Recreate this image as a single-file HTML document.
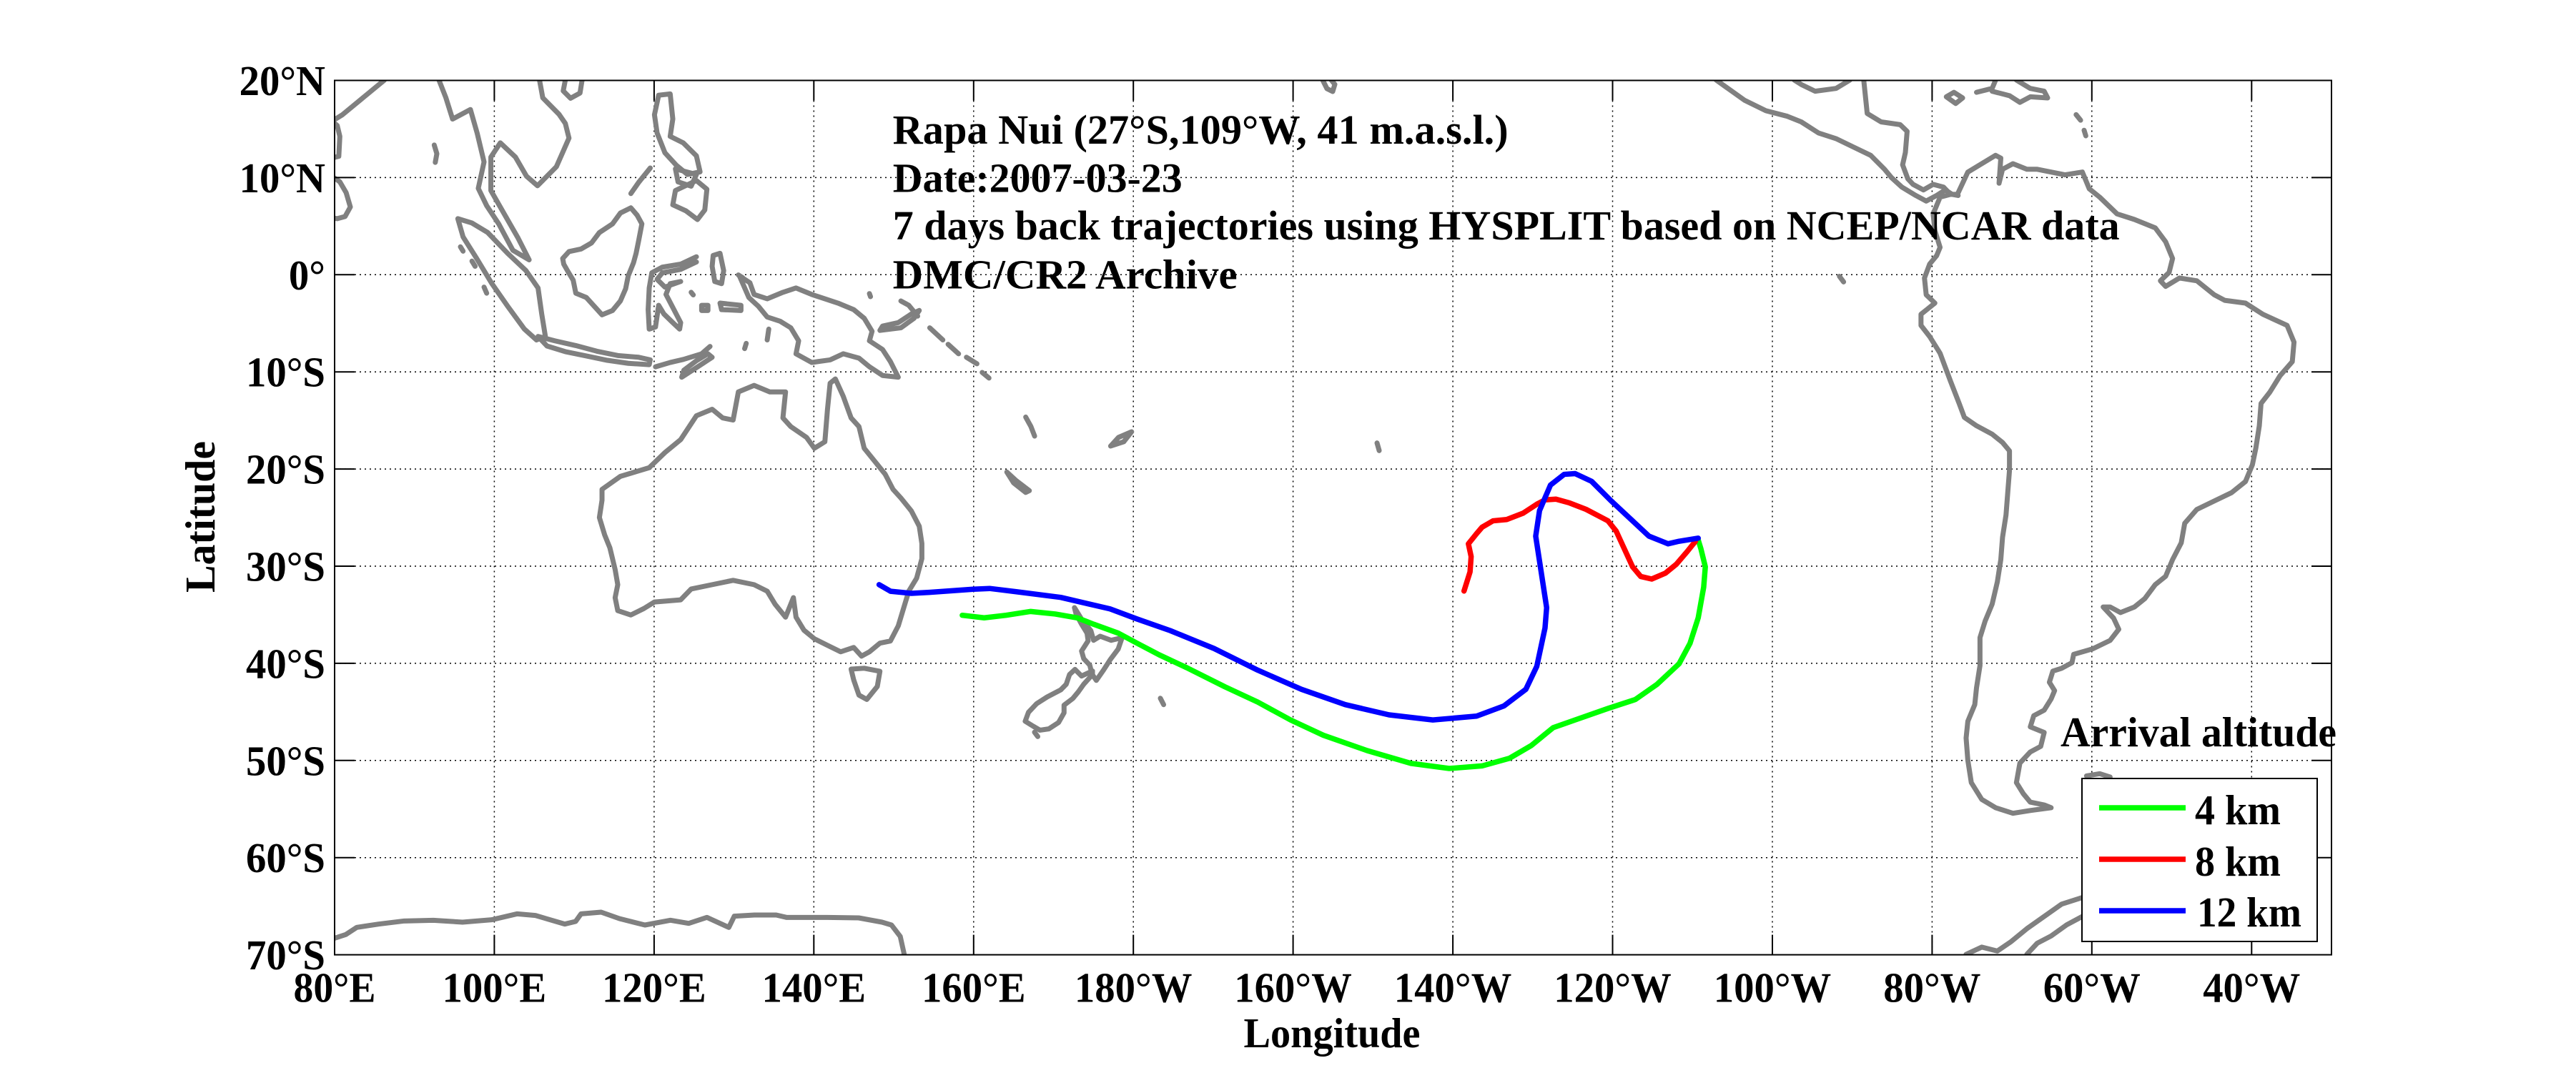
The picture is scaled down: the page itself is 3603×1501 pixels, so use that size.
<!DOCTYPE html>
<html>
<head>
<meta charset="utf-8">
<style>
html,body{margin:0;padding:0;background:#fff;}
svg{display:block;}
text{font-family:"Liberation Serif","Times New Roman",serif;font-weight:bold;fill:#000;}
.coast{fill:none;stroke:#808080;stroke-width:7;stroke-linejoin:round;stroke-linecap:round;}
.traj{fill:none;stroke-width:7.5;stroke-linejoin:round;stroke-linecap:round;}
.grid{stroke:#000;stroke-width:1.5;stroke-dasharray:2 5;fill:none;}
</style>
</head>
<body>
<svg width="3603" height="1501" viewBox="0 0 3603 1501" xmlns="http://www.w3.org/2000/svg">
<defs>
<clipPath id="ax"><rect x="468" y="112.5" width="2793" height="1223.1"/></clipPath>
</defs>
<rect x="0" y="0" width="3603" height="1501" fill="#fff"/>

<!-- gridlines -->
<g class="grid">
<path d="M691.4,112.5V1335.6 M914.9,112.5V1335.6 M1138.3,112.5V1335.6 M1361.8,112.5V1335.6 M1585.2,112.5V1335.6 M1808.6,112.5V1335.6 M2032.1,112.5V1335.6 M2255.5,112.5V1335.6 M2479,112.5V1335.6 M2702.4,112.5V1335.6 M2925.8,112.5V1335.6 M3149.3,112.5V1335.6"/>
<path d="M468,248.4H3261 M468,384.3H3261 M468,520.2H3261 M468,656.1H3261 M468,792H3261 M468,927.9H3261 M468,1063.8H3261 M468,1199.7H3261"/>
</g>

<g clip-path="url(#ax)">
<!-- Asia / Indonesia / Australia (zoom8 coords) -->
<g transform="translate(468,112) scale(0.7334,0.6059)">
<g class="coast">
<path vector-effect="non-scaling-stroke" d="M95,0 L65,30 L40,55 L15,80 L-5,95 L5,105 L10,130 L8,176 L-5,180"/>
<path vector-effect="non-scaling-stroke" d="M-5,222 L10,235 L22,260 L30,293 L20,315 L5,320 L-5,318"/>
<path vector-effect="non-scaling-stroke" d="M190,150 L195,170 L192,190"/>
<path vector-effect="non-scaling-stroke" d="M199,0 L212,40 L225,90 L259,68 L272,123 L285,189 L274,250 L290,290 L313,332 L340,393 L371,415 L350,365 L324,310 L298,255 L298,178 L316,145 L345,178 L366,222 L387,244 L423,200 L447,134 L440,100 L428,79 L397,41 L392,8 L390,-5"/>
<path vector-effect="non-scaling-stroke" d="M440,0 L436,25 L450,42 L468,30 L472,0"/>
<path vector-effect="non-scaling-stroke" d="M235,320 L262,330 L292,352 L330,400 L365,440 L388,480 L395,540 L402,592 L385,600 L362,575 L330,522 L300,470 L270,410 L245,362 Z"/>
<path vector-effect="non-scaling-stroke" d="M262,418 L268,430 M285,478 L290,492 M240,385 L245,395"/>
<path vector-effect="non-scaling-stroke" d="M388,592 L420,602 L460,613 L500,626 L540,636 L580,640 L602,646 L600,657 L560,654 L520,647 L480,637 L440,627 L405,614 Z"/>
<path vector-effect="non-scaling-stroke" d="M612,662 L640,652 L665,645 L700,632 L716,615"/>
<path vector-effect="non-scaling-stroke" d="M662,686 L685,668 L705,652 L720,640 L712,632 L690,648 L666,670 Z"/>
<path vector-effect="non-scaling-stroke" d="M435,412 L447,396 L470,390 L490,376 L505,352 L530,332 L545,307 L565,295 L577,312 L586,332 L580,370 L575,400 L570,422 L560,452 L555,482 L545,510 L530,532 L510,542 L495,522 L480,502 L460,492 L455,462 L445,442 L437,425 Z"/>
<path vector-effect="non-scaling-stroke" d="M565,262 L580,236 L602,203"/>
<path vector-effect="non-scaling-stroke" d="M690,408 L660,425 L625,432 L605,445 L600,480 L598,530 L600,575 L612,570 L618,520 L628,540 L645,560 L658,575 L660,560 L645,525 L632,495 L640,470 L660,465 L630,478 L615,460 L625,445 L660,437 L690,420"/>
<path vector-effect="non-scaling-stroke" d="M618,35 L640,32 L645,90 L640,130 L665,145 L690,175 L697,212 L673,218 L652,197 L630,168 L615,122 L610,80 Z"/>
<path vector-effect="non-scaling-stroke" d="M650,205 L690,218 L680,245 L655,235 Z"/>
<path vector-effect="non-scaling-stroke" d="M650,255 L690,232 L710,252 L706,300 L692,322 L670,302 L645,288 Z"/>
<path vector-effect="non-scaling-stroke" d="M722,405 L735,400 L742,440 L738,470 L725,465 L720,430 Z"/>
<path vector-effect="non-scaling-stroke" d="M735,515 L775,520 L775,532 L738,530 Z"/>
<path vector-effect="non-scaling-stroke" d="M700,520 L712,520 L712,532 L700,532 Z"/>
<path vector-effect="non-scaling-stroke" d="M828,575 L825,600 M785,608 L782,620 M1020,493 L1022,500 M770,450 L778,456 M680,490 L684,496"/>
<path vector-effect="non-scaling-stroke" d="M772,452 L792,468 L800,495 L825,505 L855,490 L880,480 L910,495 L960,515 L990,530 L1010,550 L1025,580 L1020,602 L1045,622 L1060,650 L1075,686 L1045,682 L1020,662 L1000,642 L970,632 L945,646 L910,652 L880,632 L885,602 L870,572 L850,557 L825,547 L808,522 L790,502 Z"/>
<path vector-effect="non-scaling-stroke" d="M1040,578 L1080,572 L1105,550 L1115,532 L1100,540 L1075,560 L1045,568 Z"/>
<path vector-effect="non-scaling-stroke" d="M1080,510 L1095,520 L1112,545"/>
<path vector-effect="non-scaling-stroke" d="M1135,572 L1160,600 M1170,610 L1190,632 M1205,640 L1225,655 M1235,675 L1248,688"/>
<path vector-effect="non-scaling-stroke" d="M1318,778 L1328,800 L1335,822"/>
<path vector-effect="non-scaling-stroke" d="M1282,905 L1300,925 L1325,948 L1318,952 L1295,930 Z"/>
<path vector-effect="non-scaling-stroke" d="M1480,845 L1495,825 L1520,812 L1505,835 Z"/>
<path vector-effect="non-scaling-stroke" d="M510,945 L545,915 L600,895 L630,860 L660,830 L690,775 L720,760 L740,780 L760,785 L770,720 L800,705 L830,720 L860,720 L855,780 L870,800 L900,825 L915,850 L935,835 L940,760 L945,700 L955,690 L970,730 L985,780 L1000,800 L1010,850 L1030,880 L1050,910 L1065,945 L1080,965 L1100,995 L1115,1030 L1120,1070 L1120,1105 L1110,1150 L1095,1180 L1085,1220 L1075,1260 L1060,1295 L1040,1300 L1020,1320 L1005,1330 L990,1310 L965,1320 L940,1305 L915,1290 L895,1270 L880,1240 L875,1195 L860,1240 L840,1210 L825,1180 L800,1165 L760,1155 L720,1165 L680,1175 L660,1200 L610,1205 L590,1220 L565,1235 L540,1225 L535,1195 L540,1165 L535,1130 L525,1080 L515,1050 L505,1010 L510,970 Z"/>
<path vector-effect="non-scaling-stroke" d="M985,1360 L1010,1358 L1040,1365 L1035,1400 L1015,1430 L1000,1420 L990,1385 Z"/>
</g>
</g>

<!-- Hawaii (original coords) -->
<path class="coast" d="M1850,112 L1856,124 L1864,128 L1867,118 L1862,112"/>

<!-- New Zealand etc (zoom7 coords) -->
<g transform="translate(1300,600) scale(0.7653,0.35714)">
<g class="coast">
<path vector-effect="non-scaling-stroke" d="M265,700 L278,745 L295,790 L300,828 L312,812 L332,828 L352,818 L345,862 L330,905 L318,945 L305,985 L297,960 L293,925 L282,900 L278,870 L290,830 L288,800 L278,765 L268,725 Z"/>
<path vector-effect="non-scaling-stroke" d="M298,948 L278,968 L266,942 L256,962 L250,1000 L240,1022 L215,1050 L196,1076 L181,1110 L175,1145 L190,1165 L202,1180 L218,1175 L236,1150 L246,1112 L246,1082 L262,1056 L272,1030 L282,1000 L298,962 Z"/>
<path vector-effect="non-scaling-stroke" d="M192,1188 L198,1205"/>
<path vector-effect="non-scaling-stroke" d="M422,1055 L428,1080"/>
<path vector-effect="non-scaling-stroke" d="M818,55 L822,85"/>
</g>
</g>

<!-- Americas (zoom9 coords) -->
<g transform="translate(2500,112) scale(0.48534,0.78)">
<g class="coast">
<path vector-effect="non-scaling-stroke" d="M-205,0 L-124,36 L-62,55 L0,65 L40,75 L90,95 L140,105 L190,120 L240,135 L280,160 L300,175 L330,192 L370,207 L400,217 L430,207 L455,197 L475,205 L492,207"/>
<path vector-effect="non-scaling-stroke" d="M220,0 L230,60 L270,75 L325,80 L345,92 L340,130 L332,152 L347,177 L362,187 L392,197 L420,187 L450,192 L470,205"/>
<path vector-effect="non-scaling-stroke" d="M20,0 L40,8 L80,20 L140,15 L180,0"/>
<path vector-effect="non-scaling-stroke" d="M458,30 L480,22 L505,32 L485,42 Z"/>
<path vector-effect="non-scaling-stroke" d="M545,22 L590,15 L600,0 M590,20 L640,28 L670,40 L700,30 L750,32 L740,20 L700,15 L660,0"/>
<path vector-effect="non-scaling-stroke" d="M832,62 L845,72 M855,90 L860,100"/>
<path vector-effect="non-scaling-stroke" d="M150,352 L162,362"/>
<path vector-effect="non-scaling-stroke" d="M490,205 L520,165 L560,150 L600,135 L615,140 L610,185 L620,160 L650,150 L690,160 L720,160 L760,165 L800,170 L850,165 L870,195 L900,210 L950,240 L1000,250 L1060,265 L1090,290 L1110,320 L1100,345 L1075,360 L1090,370 L1130,355 L1180,360 L1230,385 L1260,395 L1320,400 L1370,420 L1440,440 L1460,470 L1455,505 L1420,530 L1390,560 L1365,580 L1360,620 L1350,660 L1340,690 L1320,720 L1280,740 L1230,755 L1180,770 L1145,795 L1135,830 L1110,860 L1090,890 L1060,905 L1030,930 L1000,945 L960,955 L930,945 L910,945 L940,965 L955,985 L930,1005 L880,1020 L825,1030 L820,1045 L790,1055 L765,1060 L755,1080 L770,1095 L760,1110 L740,1130 L710,1140 L700,1160 L740,1170 L730,1195 L700,1205 L670,1225 L660,1260 L680,1280 L700,1295 L740,1300 L760,1305 L700,1310 L650,1315 L600,1305 L560,1290 L530,1260 L520,1220 L515,1180 L520,1150 L540,1120 L545,1090 L555,1050 L555,1000 L570,970 L590,940 L605,900 L615,860 L620,820 L630,780 L635,740 L640,700 L640,665 L620,650 L590,635 L545,620 L510,605 L495,580 L470,540 L440,490 L410,460 L385,440 L385,420 L405,410 L425,400 L400,385 L395,355 L410,330 L430,315 L440,300 L425,270 L420,240 L440,210 L470,205 Z"/>
<path vector-effect="non-scaling-stroke" d="M862,1248 L900,1244 L930,1250 L910,1258 L870,1256 Z"/>
<path vector-effect="non-scaling-stroke" d="M515,1568 L560,1555 L605,1562 L645,1545 L690,1522 L740,1500 L790,1478 L840,1468 L870,1462"/>
<path vector-effect="non-scaling-stroke" d="M690,1568 L720,1548 L760,1535 L805,1515 L850,1500"/>
</g>
</g>

<!-- Antarctica left (zoom2 coords) -->
<g transform="translate(300,1150) scale(0.5102,0.33333)">
<g class="coast">
<path vector-effect="non-scaling-stroke" d="M300,495 L330,487 L360,472 L390,442 L450,428 L520,415 L600,412 L680,420 L760,410 L830,385 L880,392 L960,428 L990,417 L1005,385 L1060,378 L1110,405 L1180,432 L1250,412 L1300,425 L1350,400 L1410,442 L1425,395 L1480,390 L1540,390 L1568,400 L1680,400 L1766,402 L1830,420 L1856,432 L1880,480 L1893,570"/>
</g>
</g>

<!-- trajectories (zoom7 coords) -->
<g transform="translate(1300,600) scale(0.7653,0.35714)">
<path class="traj" vector-effect="non-scaling-stroke" stroke="#00ff00" d="M60,730 L100,740 L140,730 L185,715 L230,725 L270,740 L300,765 L345,800 L380,840 L420,885 L470,935 L540,1010 L600,1070 L660,1140 L720,1200 L800,1260 L880,1310 L950,1330 L1010,1320 L1060,1290 L1100,1240 L1140,1170 L1180,1140 L1240,1095 L1290,1060 L1330,1000 L1370,920 L1390,840 L1405,740 L1415,620 L1418,540 L1410,470 L1405,435"/>
<path class="traj" vector-effect="non-scaling-stroke" stroke="#ff0000" d="M977,635 L988,560 L990,500 L985,450 L1000,410 L1010,385 L1030,360 L1055,355 L1085,330 L1110,295 L1125,278 L1145,275 L1170,290 L1200,315 L1240,360 L1255,400 L1270,470 L1285,540 L1300,578 L1320,588 L1345,565 L1365,530 L1385,480 L1400,440"/>
<path class="traj" vector-effect="non-scaling-stroke" stroke="#0000ff" d="M-92,610 L-71,636 L-33,644 L0,640 L80,628 L110,625 L160,638 L240,660 L330,705 L380,745 L440,790 L520,860 L600,945 L680,1020 L760,1080 L840,1120 L920,1140 L1000,1125 L1050,1085 L1090,1020 L1110,930 L1125,780 L1128,700 L1118,560 L1108,420 L1115,320 L1135,220 L1160,178 L1180,175 L1210,205 L1245,280 L1280,350 L1315,420 L1350,450 L1370,440 L1405,428"/>
</g>
</g>

<!-- axes box and ticks -->
<g stroke="#000" stroke-width="2" fill="none">
<rect x="468" y="112.5" width="2793" height="1223.1"/>
<path d="M468,248.4h28 M468,384.3h28 M468,520.2h28 M468,656.1h28 M468,792h28 M468,927.9h28 M468,1063.8h28 M468,1199.7h28"/>
<path d="M3261,248.4h-28 M3261,384.3h-28 M3261,520.2h-28 M3261,656.1h-28 M3261,792h-28 M3261,927.9h-28 M3261,1063.8h-28 M3261,1199.7h-28"/>
<path d="M691.4,1335.6v-28 M914.9,1335.6v-28 M1138.3,1335.6v-28 M1361.8,1335.6v-28 M1585.2,1335.6v-28 M1808.6,1335.6v-28 M2032.1,1335.6v-28 M2255.5,1335.6v-28 M2479,1335.6v-28 M2702.4,1335.6v-28 M2925.8,1335.6v-28 M3149.3,1335.6v-28"/>
<path d="M691.4,112.5v28 M914.9,112.5v28 M1138.3,112.5v28 M1361.8,112.5v28 M1585.2,112.5v28 M1808.6,112.5v28 M2032.1,112.5v28 M2255.5,112.5v28 M2479,112.5v28 M2702.4,112.5v28 M2925.8,112.5v28 M3149.3,112.5v28"/>
</g>

<!-- y tick labels -->
<g font-size="59" text-anchor="end">
<text x="455" y="133" textLength="120.4" lengthAdjust="spacingAndGlyphs">20°N</text>
<text x="455" y="268.9" textLength="120.4" lengthAdjust="spacingAndGlyphs">10°N</text>
<text x="455" y="404.8" textLength="51.1" lengthAdjust="spacingAndGlyphs">0°</text>
<text x="455" y="540.7" textLength="111" lengthAdjust="spacingAndGlyphs">10°S</text>
<text x="455" y="676.6" textLength="111" lengthAdjust="spacingAndGlyphs">20°S</text>
<text x="455" y="812.5" textLength="111" lengthAdjust="spacingAndGlyphs">30°S</text>
<text x="455" y="948.4" textLength="111" lengthAdjust="spacingAndGlyphs">40°S</text>
<text x="455" y="1084.3" textLength="111" lengthAdjust="spacingAndGlyphs">50°S</text>
<text x="455" y="1220.2" textLength="111" lengthAdjust="spacingAndGlyphs">60°S</text>
<text x="455" y="1356.1" textLength="111" lengthAdjust="spacingAndGlyphs">70°S</text>
</g>

<!-- x tick labels -->
<g font-size="59" text-anchor="middle">
<text x="468" y="1401.7" textLength="115" lengthAdjust="spacingAndGlyphs">80°E</text>
<text x="691.4" y="1401.7" textLength="145.7" lengthAdjust="spacingAndGlyphs">100°E</text>
<text x="914.9" y="1401.7" textLength="145.7" lengthAdjust="spacingAndGlyphs">120°E</text>
<text x="1138.3" y="1401.7" textLength="145.7" lengthAdjust="spacingAndGlyphs">140°E</text>
<text x="1361.8" y="1401.7" textLength="145.7" lengthAdjust="spacingAndGlyphs">160°E</text>
<text x="1585.2" y="1401.7" textLength="164.6" lengthAdjust="spacingAndGlyphs">180°W</text>
<text x="1808.6" y="1401.7" textLength="164.6" lengthAdjust="spacingAndGlyphs">160°W</text>
<text x="2032.1" y="1401.7" textLength="164.6" lengthAdjust="spacingAndGlyphs">140°W</text>
<text x="2255.5" y="1401.7" textLength="164.6" lengthAdjust="spacingAndGlyphs">120°W</text>
<text x="2479" y="1401.7" textLength="164.6" lengthAdjust="spacingAndGlyphs">100°W</text>
<text x="2702.4" y="1401.7" textLength="136.2" lengthAdjust="spacingAndGlyphs">80°W</text>
<text x="2925.8" y="1401.7" textLength="136.2" lengthAdjust="spacingAndGlyphs">60°W</text>
<text x="3149.3" y="1401.7" textLength="136.2" lengthAdjust="spacingAndGlyphs">40°W</text>
</g>

<!-- axis labels -->
<text font-size="59" x="1863" y="1465" text-anchor="middle" textLength="247" lengthAdjust="spacingAndGlyphs">Longitude</text>
<text font-size="59" transform="translate(300,723) rotate(-90)" x="0" y="0" text-anchor="middle" textLength="212" lengthAdjust="spacingAndGlyphs">Latitude</text>

<!-- title text -->
<g font-size="58">
<text x="1248.7" y="201" textLength="861" lengthAdjust="spacingAndGlyphs">Rapa Nui (27°S,109°W, 41 m.a.s.l.)</text>
<text x="1248.7" y="268.3" textLength="405" lengthAdjust="spacingAndGlyphs">Date:2007-03-23</text>
<text x="1248.7" y="335" textLength="1716" lengthAdjust="spacingAndGlyphs">7 days back trajectories using HYSPLIT based on NCEP/NCAR data</text>
<text x="1248.7" y="403.3" textLength="482" lengthAdjust="spacingAndGlyphs">DMC/CR2 Archive</text>
</g>

<!-- legend -->
<text font-size="59" x="2882" y="1044" textLength="386" lengthAdjust="spacingAndGlyphs">Arrival altitude</text>
<rect x="2912" y="1089" width="329" height="228" fill="#fff" stroke="#000" stroke-width="2"/>
<g stroke-width="7.4">
<line x1="2936" y1="1130" x2="3057" y2="1130" stroke="#00ff00"/>
<line x1="2936" y1="1202" x2="3057" y2="1202" stroke="#ff0000"/>
<line x1="2936" y1="1274" x2="3057" y2="1274" stroke="#0000ff"/>
</g>
<g font-size="59">
<text x="3070" y="1153" textLength="120" lengthAdjust="spacingAndGlyphs">4 km</text>
<text x="3070" y="1224.8" textLength="120" lengthAdjust="spacingAndGlyphs">8 km</text>
<text x="3073" y="1296" textLength="146" lengthAdjust="spacingAndGlyphs">12 km</text>
</g>
</svg>
</body>
</html>
